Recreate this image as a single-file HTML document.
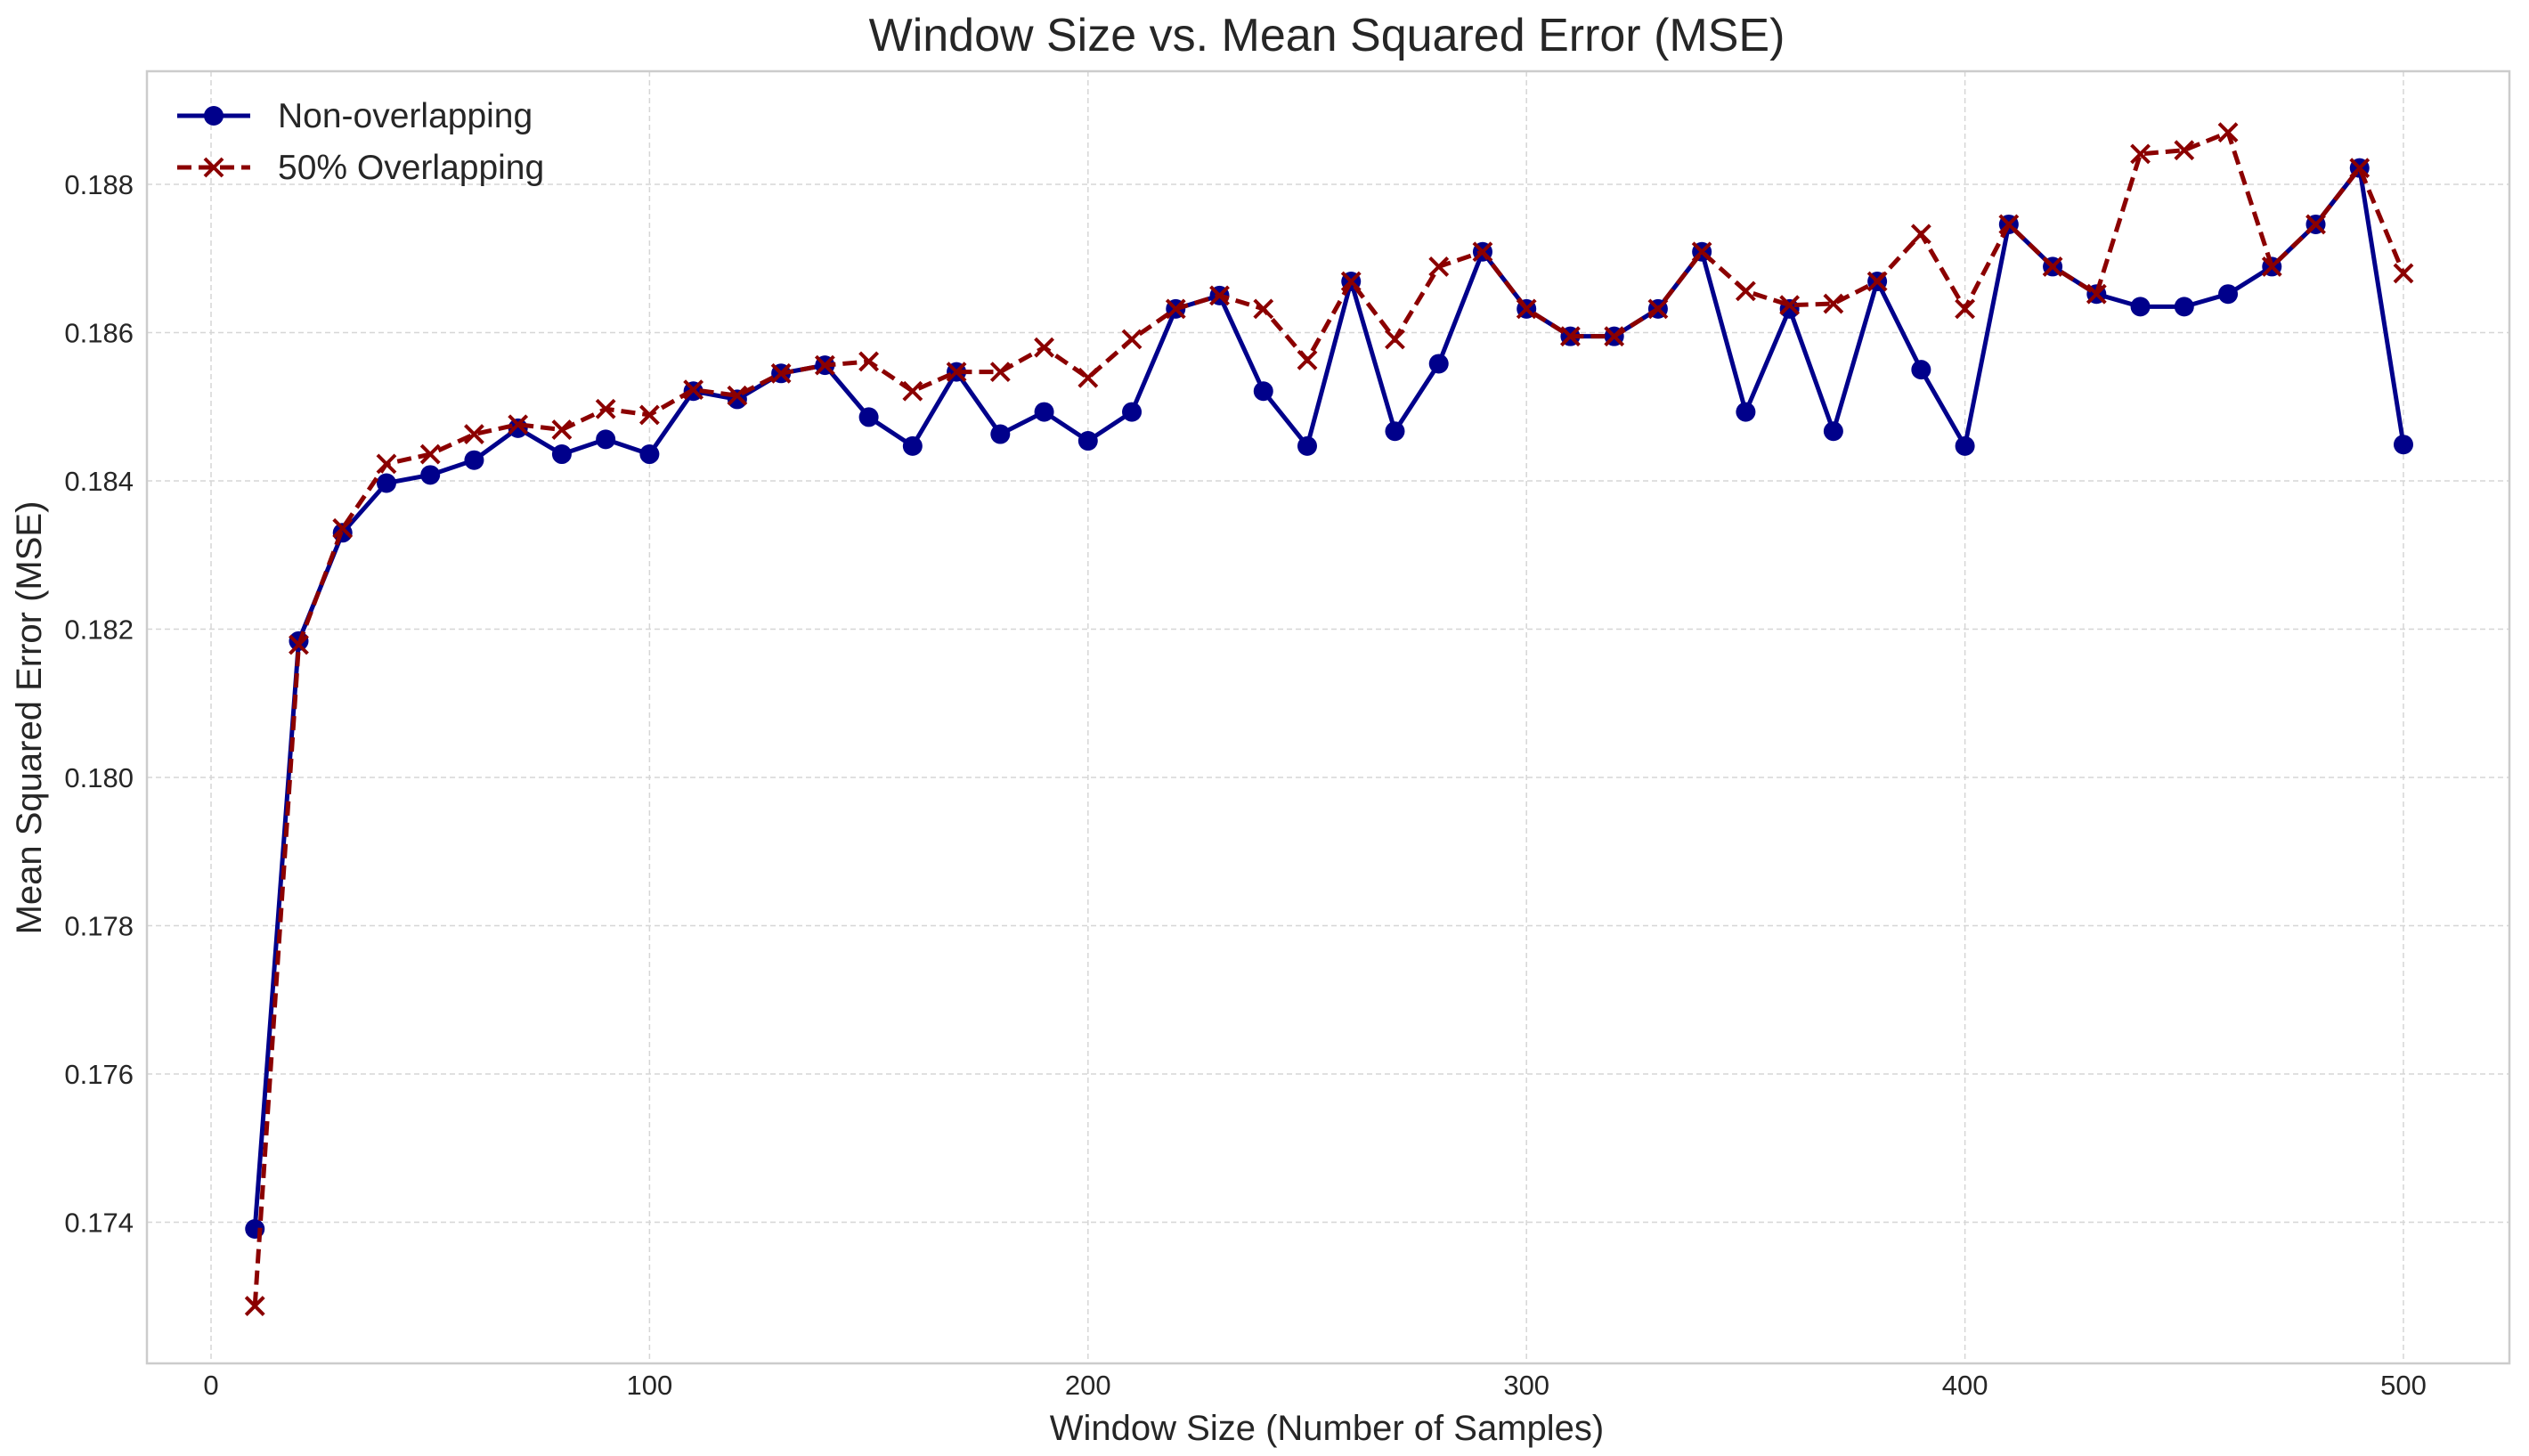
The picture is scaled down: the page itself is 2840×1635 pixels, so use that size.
<!DOCTYPE html>
<html><head><meta charset="utf-8"><style>
html,body{margin:0;padding:0;background:#fff}
svg{display:block;font-family:"Liberation Sans",Arial,sans-serif}
</style></head><body>
<svg id="chart" width="2840" height="1635" viewBox="0 0 2840 1635" xmlns="http://www.w3.org/2000/svg">
<text x="1490" y="57" font-size="52" text-anchor="middle" fill="#262626">Window Size vs. Mean Squared Error (MSE)</text>
<g id="grid"></g>
<rect x="165" y="80" width="2653" height="1451" fill="none" stroke="#cccccc" stroke-width="2.5"/>
<g id="series"></g>
<g id="ticks"></g>
<text x="1490" y="1617" font-size="40" text-anchor="middle" fill="#262626">Window Size (Number of Samples)</text>
<text transform="translate(46,806) rotate(-90)" font-size="40" text-anchor="middle" fill="#262626">Mean Squared Error (MSE)</text>
<g>
<g>
<line x1="199" y1="130" x2="281" y2="130" stroke="#00008b" stroke-width="5"/>
<circle cx="240" cy="130" r="11" fill="#00008b"/>
<text x="312" y="143" font-size="39" fill="#262626">Non-overlapping</text>
</g>
<g>
<line x1="199" y1="188" x2="281" y2="188" stroke="#8b0000" stroke-width="5" stroke-dasharray="16,8"/>
<path d="M230 178 L250 198 M250 178 L230 198" stroke="#8b0000" stroke-width="4"/>
<text x="312" y="201" font-size="39" fill="#262626">50% Overlapping</text>
</g>
</g>
</svg>
<script>
const windowSizes = [10,20,30,40,50,60,70,80,90,100,110,120,130,140,150,160,170,180,190,200,210,220,230,240,250,260,270,280,290,300,310,320,330,340,350,360,370,380,390,400,410,420,430,440,450,460,470,480,490,500];
const nonOverlapping = [0.17391,0.18184,0.18330,0.18397,0.18408,0.18428,0.18471,0.18436,0.18456,0.18436,0.18521,0.18510,0.18545,0.18556,0.18486,0.18447,0.18547,0.18463,0.18493,0.18454,0.18493,0.18632,0.18650,0.18521,0.18447,0.18669,0.18467,0.18558,0.18709,0.18632,0.18595,0.18595,0.18632,0.18709,0.18493,0.18632,0.18467,0.18669,0.18550,0.18447,0.18746,0.18689,0.18652,0.18635,0.18635,0.18652,0.18689,0.18746,0.18822,0.18449];
const overlapping50 = [0.17287,0.18179,0.18336,0.18423,0.18436,0.18463,0.18476,0.18469,0.18497,0.18489,0.18523,0.18515,0.18545,0.18556,0.18561,0.18521,0.18547,0.18547,0.18580,0.18539,0.18591,0.18632,0.18650,0.18632,0.18563,0.18669,0.18591,0.18689,0.18709,0.18632,0.18595,0.18595,0.18632,0.18709,0.18656,0.18637,0.18639,0.18669,0.18733,0.18632,0.18746,0.18689,0.18652,0.18841,0.18846,0.18870,0.18689,0.18746,0.18822,0.18680];
const xTicks = [0,100,200,300,400,500];
const yTicks = [0.174,0.176,0.178,0.180,0.182,0.184,0.186,0.188];

const NS="http://www.w3.org/2000/svg";
const L=165,R=2818,T=80,B=1531;
function xs(v){return 237+(v-0)*(2699-237)/500;}
function ys(v){return 207+(0.188-v)/0.002*166.5;}
function mk(tag,attrs,parent){const e=document.createElementNS(NS,tag);for(const k in attrs)e.setAttribute(k,attrs[k]);parent.appendChild(e);return e;}
const grid=document.getElementById('grid'),ticks=document.getElementById('ticks'),series=document.getElementById('series');
xTicks.forEach(t=>{
  const g=mk('line',{x1:xs(t),x2:xs(t),y1:T,y2:B,stroke:'#d6d6d6','stroke-width':1.5,'stroke-dasharray':'6,4'},grid);
  
  
  const tx=mk('text',{x:xs(t),y:1566,'font-size':31,'text-anchor':'middle',fill:'#262626'},ticks);
  tx.textContent=t;
  
  
});
yTicks.forEach(t=>{
  const g=mk('line',{x1:L,x2:R,y1:ys(t),y2:ys(t),stroke:'#d6d6d6','stroke-width':1.5,'stroke-dasharray':'6,4'},grid);
  
  
  const tx=mk('text',{x:150,y:ys(t)+11,'font-size':31,'text-anchor':'end',fill:'#262626'},ticks);
  tx.textContent=t.toFixed(3);
  
  
});
const pb=windowSizes.map((w,i)=>xs(w)+','+ys(nonOverlapping[i])).join(' ');
const lb=mk('polyline',{points:pb,fill:'none',stroke:'#00008b','stroke-width':5,'stroke-linejoin':'round'},series);


windowSizes.forEach((w,i)=>{
  const c=mk('circle',{cx:xs(w),cy:ys(nonOverlapping[i]),r:11,fill:'#00008b'},series);
  
  
});
const pr=windowSizes.map((w,i)=>xs(w)+','+ys(overlapping50[i])).join(' ');
const lr=mk('polyline',{points:pr,fill:'none',stroke:'#8b0000','stroke-width':5,'stroke-dasharray':'16,8'},series);


windowSizes.forEach((w,i)=>{
  const x=xs(w),y=ys(overlapping50[i]);
  const p=mk('path',{d:`M${x-10} ${y-10} L${x+10} ${y+10} M${x+10} ${y-10} L${x-10} ${y+10}`,stroke:'#8b0000','stroke-width':4},series);
  
  
});
</script>
</body></html>
